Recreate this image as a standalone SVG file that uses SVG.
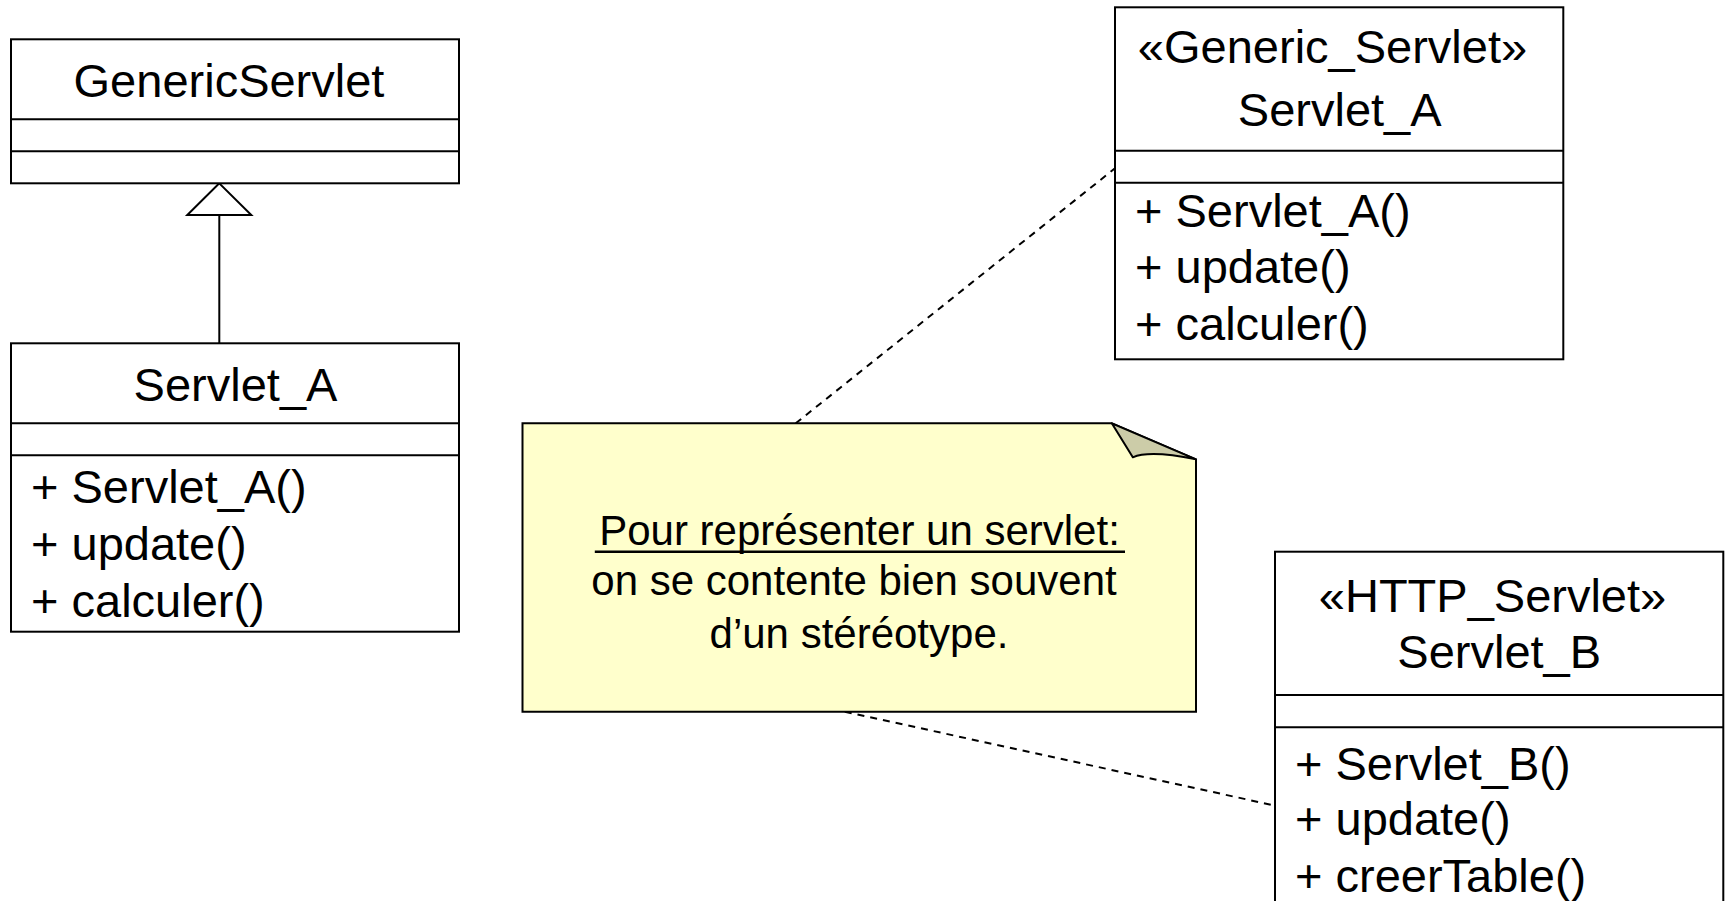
<svg xmlns="http://www.w3.org/2000/svg" width="1728" height="901" viewBox="0 0 1728 901">
<style>
.box{fill:#fff;stroke:#000;stroke-width:2}
.ln{stroke:#000;stroke-width:2}
text{font-family:"Liberation Sans",Arial,sans-serif;font-size:47px;fill:#000}
.c{text-anchor:middle}
.note{font-size:42px}
.dash{stroke:#000;stroke-width:2;stroke-dasharray:7,6;fill:none}
</style>
<rect width="1728" height="901" fill="#fff"/>
<g id="connectors">
<line class="ln" x1="219.3" y1="215" x2="219.3" y2="343.3"/>
<polygon points="219.3,183.3 187.3,215 251.3,215" fill="#fff" stroke="#000" stroke-width="2"/>
<line class="dash" x1="795.7" y1="423.3" x2="1115" y2="168.3"/>
<line class="dash" x1="844.8" y1="711.7" x2="1275" y2="805.6"/>
</g>
<g id="GenericServlet">
<rect class="box" x="11" y="39.3" width="448" height="144"/>
<line class="ln" x1="11" y1="119.3" x2="459" y2="119.3"/>
<line class="ln" x1="11" y1="151.3" x2="459" y2="151.3"/>
<text class="c" x="229" y="96.7">GenericServlet</text>
</g>
<g id="Servlet_A_left">
<rect class="box" x="11" y="343.3" width="448" height="288.4"/>
<line class="ln" x1="11" y1="423.3" x2="459" y2="423.3"/>
<line class="ln" x1="11" y1="455.3" x2="459" y2="455.3"/>
<text class="c" x="235.5" y="400.7">Servlet_A</text>
<text x="31" y="503.3">+ Servlet_A()</text>
<text x="31" y="560">+ update()</text>
<text x="31" y="616.7">+ calculer()</text>
</g>
<g id="Servlet_A_right">
<rect class="box" x="1115" y="7.3" width="448.3" height="352"/>
<line class="ln" x1="1115" y1="150.7" x2="1563.3" y2="150.7"/>
<line class="ln" x1="1115" y1="182.7" x2="1563.3" y2="182.7"/>
<text class="c" x="1332.5" y="63.3">«Generic_Servlet»</text>
<text class="c" x="1339.7" y="126">Servlet_A</text>
<text x="1135" y="226.7">+ Servlet_A()</text>
<text x="1135" y="283.3">+ update()</text>
<text x="1135" y="340">+ calculer()</text>
</g>
<g id="Servlet_B">
<rect class="box" x="1275" y="551.7" width="448.3" height="380"/>
<line class="ln" x1="1275" y1="695" x2="1723.3" y2="695"/>
<line class="ln" x1="1275" y1="727.3" x2="1723.3" y2="727.3"/>
<text class="c" x="1492.5" y="611.7">«HTTP_Servlet»</text>
<text class="c" x="1499.2" y="668.3">Servlet_B</text>
<text x="1295" y="780">+ Servlet_B()</text>
<text x="1295" y="835">+ update()</text>
<text x="1295" y="891.7">+ creerTable()</text>
</g>
<g id="note">
<path d="M522.5,423.3 L1111.8,423.3 L1196,459.3 L1196,711.7 L522.5,711.7 Z" fill="#FFFFCC" stroke="#000" stroke-width="2"/>
<path d="M1111.8,423.3 L1132.8,457.3 Q1150,450 1196,459.3 Z" fill="#CCCCA8" stroke="#000" stroke-width="2" stroke-linejoin="round"/>
<text class="c note" x="859.5" y="545">Pour représenter un servlet:</text>
<line x1="594.8" y1="551.7" x2="1125" y2="551.7" stroke="#000" stroke-width="2.5"/>
<text class="c note" x="854" y="595">on se contente bien souvent</text>
<text class="c note" x="859" y="648.3">d’un stéréotype.</text>
</g>
</svg>
